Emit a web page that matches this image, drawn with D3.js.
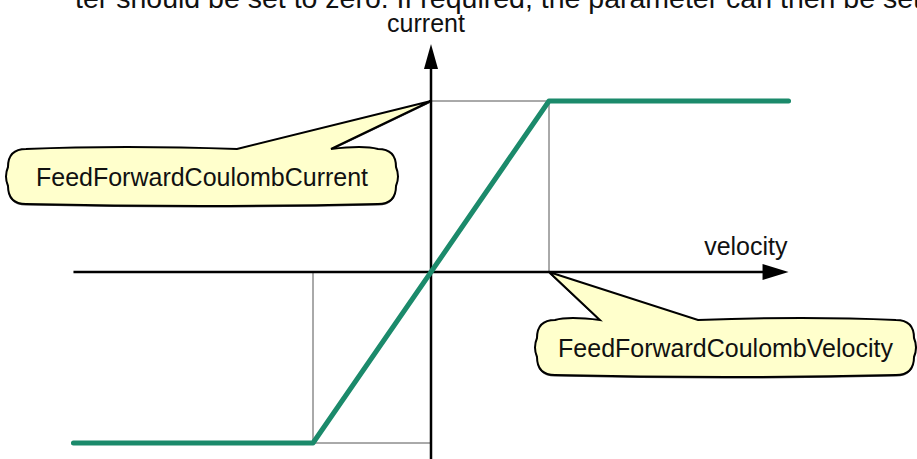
<!DOCTYPE html>
<html>
<head>
<meta charset="utf-8">
<script src="https://cdn.jsdelivr.net/npm/d3@7"></script>
<style>
  body { margin: 0; background: #fff; }
  svg { display: block; font-family: "Liberation Sans", Arial, sans-serif; }
</style>
</head>
<body>
<script>
// Coulomb feed-forward characteristic: current vs velocity (normalised units)
var velocity = [-3.03, -1, 1, 3.03];
var current = [-1, -1, 1, 1];

// helper lines from the Coulomb points to the axes
var guideVelocity = [1, -1];
var guideCurrent = [1, -1];

var axisLabels = ["velocity", "current"];
var calloutTexts = ["FeedForwardCoulombCurrent", "FeedForwardCoulombVelocity"];
var captionText = "ter should be set to zero. If required, the parameter can then be set";

var svgWidth = 917;
var svgHeight = 459;

var svg = d3.select("body")
  .append("svg")
  .attr("width", svgWidth)
  .attr("height", svgHeight);

// scales: one unit of velocity = 118px, one unit of current = 171px
var x = d3.scaleLinear().domain([-1, 1]).range([313, 549]);
var y = d3.scaleLinear().domain([-1, 1]).range([443, 101]);

// cut-off sentence from the page above
svg.append("text")
  .attr("x", 75)
  .attr("y", 8)
  .attr("font-size", 28.5)
  .attr("fill", "#111")
  .text(captionText);

// thin guide lines
var guides = svg.append("g")
  .attr("stroke", "#555")
  .attr("stroke-width", 1)
  .attr("fill", "none");

guideVelocity.forEach(function(v, i) {
  var c = guideCurrent[i];
  guides.append("line")
    .attr("x1", x(v)).attr("y1", y(0))
    .attr("x2", x(v)).attr("y2", y(c));
  guides.append("line")
    .attr("x1", x(0)).attr("y1", y(c))
    .attr("x2", x(v)).attr("y2", y(c));
});

// axes
var axes = svg.append("g")
  .attr("stroke", "#000")
  .attr("stroke-width", 2.5);

axes.append("line")
  .attr("x1", x(-3.03)).attr("y1", y(0))
  .attr("x2", x(2.85)).attr("y2", y(0));
axes.append("line")
  .attr("x1", x(0)).attr("y1", y(-1.1))
  .attr("x2", x(0)).attr("y2", y(1.2));

// arrow heads
var hx = x(3.03), hy = y(0);
svg.append("path")
  .attr("d", `M${hx},${hy} L${hx - 26},${hy - 8} L${hx - 26},${hy + 8} Z`)
  .attr("fill", "#000");
var vx = x(0), vy = y(1.333);
svg.append("path")
  .attr("d", `M${vx},${vy} L${vx - 7},${vy + 25} L${vx + 7},${vy + 25} Z`)
  .attr("fill", "#000");

// axis labels
svg.append("text")
  .attr("x", x(3.03) - 1)
  .attr("y", y(0) - 17)
  .attr("text-anchor", "end")
  .attr("font-size", 25)
  .attr("fill", "#111")
  .text(axisLabels[0]);

svg.append("text")
  .attr("x", x(0) - 5)
  .attr("y", 32)
  .attr("text-anchor", "middle")
  .attr("font-size", 25)
  .attr("fill", "#111")
  .text(axisLabels[1]);

// the characteristic
var line = d3.line()
  .x(function(d, i) { return x(velocity[i]); })
  .y(function(d) { return y(d); });

svg.append("path")
  .datum(current)
  .attr("d", line)
  .attr("fill", "none")
  .attr("stroke", "#1b8a6b")
  .attr("stroke-width", 5)
  .attr("stroke-linecap", "round")
  .attr("stroke-linejoin", "round");

// rounded callout with a pointer on the top edge
function calloutPath(x0, y0, x1, y1, r, pL, pR, tx, ty) {
  var b = 4; // slight bulge of the edges
  return `M${x0 + r},${y0}` +
    `Q${(x0 + pL) / 2},${y0 - b} ${pL},${y0}` +
    `L${tx},${ty} L${pR},${y0}` +
    `Q${(pR + x1) / 2},${y0 - b} ${x1 - r},${y0}` +
    `Q${x1},${y0} ${x1},${y0 + r}` +
    `Q${x1 + b},${(y0 + y1) / 2} ${x1},${y1 - r}` +
    `Q${x1},${y1} ${x1 - r},${y1}` +
    `Q${(x0 + x1) / 2},${y1 + b} ${x0 + r},${y1}` +
    `Q${x0},${y1} ${x0},${y1 - r}` +
    `Q${x0 - b},${(y0 + y1) / 2} ${x0},${y0 + r}` +
    `Q${x0},${y0} ${x0 + r},${y0} Z`;
}

var callouts = [
  { box: [8, 149, 396, 204], pointer: [237, 331], tip: [x(0), y(1)], text: calloutTexts[0] },
  { box: [537, 320, 914, 375], pointer: [600, 698], tip: [x(1), y(0)], text: calloutTexts[1] }
];

callouts.forEach(function(c) {
  var b = c.box;
  var d = calloutPath(b[0], b[1], b[2], b[3], 18, c.pointer[0], c.pointer[1], c.tip[0], c.tip[1]);
  svg.append("path")
    .attr("d", d)
    .attr("transform", "translate(0,1.5)")
    .attr("fill", "#444");
  svg.append("path")
    .attr("d", d)
    .attr("fill", "#ffffcc")
    .attr("stroke", "#000")
    .attr("stroke-width", 2)
    .attr("stroke-linejoin", "miter");
  svg.append("text")
    .attr("x", (b[0] + b[2]) / 2)
    .attr("y", (b[1] + b[3]) / 2 + 9)
    .attr("text-anchor", "middle")
    .attr("font-size", 25)
    .attr("fill", "#111")
    .text(c.text);
});
</script>
</body>
</html>
